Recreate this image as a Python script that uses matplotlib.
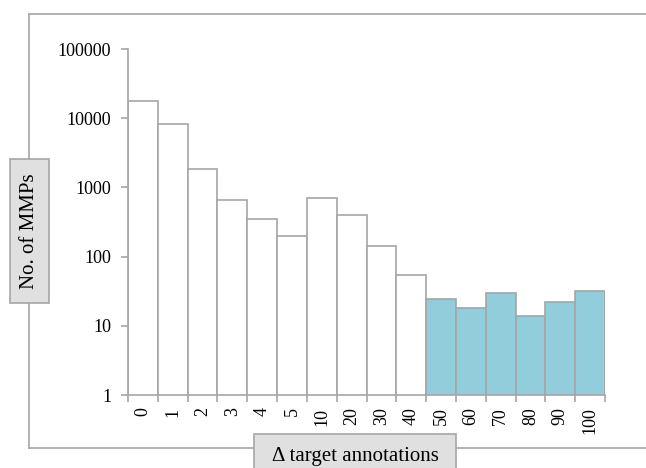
import numpy as np
import matplotlib
matplotlib.use("Agg")
import matplotlib.pyplot as plt
from matplotlib.patches import Rectangle
from matplotlib.lines import Line2D
from matplotlib.ticker import FixedLocator, FuncFormatter, NullLocator

# --- Daten ---
categories = ["0", "1", "2", "3", "4", "5", "10", "20", "30", "40",
              "50", "60", "70", "80", "90", "100"]
n_mmps = [18000, 8200, 1850, 650, 350, 200, 700, 395, 142, 55,
          24, 18, 30, 14, 22, 32]
y_ticks = [1, 10, 100, 1000, 10000, 100000]

W, H = 646, 468
EDGE = "#a6a6a6"
BLUE = "#92cddc"

plt.rcParams["font.family"] = ["Liberation Serif", "DejaVu Serif"]

fig = plt.figure(figsize=(W / 100, H / 100), dpi=100)


def fx(px):
    return px / W


def fy(py):
    return 1 - py / H


ax = fig.add_axes([fx(128), fy(395), fx(605) - fx(128), fy(49) - fy(395)])

x = np.arange(len(categories))
colors = ["white" if int(c) < 50 else BLUE for c in categories]
ax.bar(x, n_mmps, width=1.0, color=colors, edgecolor=EDGE, linewidth=1.2,
       zorder=2)

ax.set_yscale("log")
ax.set_ylim(y_ticks[0], y_ticks[-1])
ax.set_xlim(-0.5, len(categories) - 0.5)

ax.yaxis.set_major_locator(FixedLocator(y_ticks))
ax.yaxis.set_minor_locator(NullLocator())
ax.yaxis.set_major_formatter(FuncFormatter(lambda v, p: f"{int(v)}"))
ax.tick_params(axis="y", length=5, color=EDGE, width=1.2, labelsize=13, pad=7)

ax.set_xticks(x)
ax.set_xticklabels(categories, rotation=90, fontsize=13)
ax.set_xticks(np.arange(len(categories) + 1) - 0.5, minor=True)
ax.tick_params(axis="x", which="major", length=0, pad=9)
ax.tick_params(axis="x", which="minor", length=5, color=EDGE, width=1.2)

for s in ["top", "right"]:
    ax.spines[s].set_visible(False)
for s in ["left", "bottom"]:
    ax.spines[s].set_color(EDGE)
    ax.spines[s].set_linewidth(1.2)

# Rahmen um das Diagramm
frame_kw = dict(color=EDGE, linewidth=1.2, transform=fig.transFigure)
fig.add_artist(Line2D([fx(29), fx(29)], [fy(14), fy(448)], **frame_kw))
fig.add_artist(Line2D([fx(29), 1.0], [fy(14), fy(14)], **frame_kw))
fig.add_artist(Line2D([fx(29), 1.0], [fy(448), fy(448)], **frame_kw))

# Achsentitel in grauen Kaesten
box_kw = dict(facecolor="#e0e0e0", edgecolor=EDGE, linewidth=1.2,
              transform=fig.transFigure, zorder=5)
fig.add_artist(Rectangle((fx(10), fy(303)), fx(49) - fx(10), fy(159) - fy(303), **box_kw))
fig.text(fx(29.5), fy(231), "No. of MMPs", rotation=90, ha="center", va="center",
         fontsize=15, zorder=6)

fig.add_artist(Rectangle((fx(254), fy(480)), fx(456) - fx(254), fy(434) - fy(480), **box_kw))
fig.text(fx(355), fy(456), "\u0394 target annotations", ha="center", va="center",
         fontsize=15, zorder=6)

fig.savefig("out.png", dpi=100)
